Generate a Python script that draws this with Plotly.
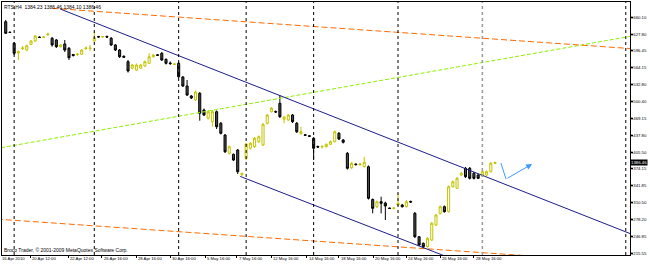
import plotly.graph_objects as go

# ---- data (RTS, H4) ----
opens = [1651.2, 1631.5, 1610.6, 1592.3, 1600.6, 1597.9, 1608.7, 1614.9, 1622.4, 1621.5,
         1627.1, 1620.0, 1616.8, 1604.2, 1609.3, 1601.1, 1589.5, 1589.3, 1589.8, 1600.6,
         1600.8, 1614.9, 1623.4, 1622.4, 1623.4, 1620.0, 1607.4, 1597.9, 1586.2, 1575.9,
         1563.5, 1560.3, 1563.5, 1567.8, 1572.9, 1585.3, 1588.9, 1591.7, 1580.4, 1573.4,
         1570.6, 1572.9, 1547.1, 1530.1, 1511.3, 1503.8, 1516.4, 1484.9, 1469.3, 1462.9,
         1481.7, 1459.9, 1437.8, 1403.3, 1401.4, 1409.6, 1362.8, 1393.9, 1412.8, 1415.8,
         1425.2, 1419.0, 1459.9, 1481.7, 1482.1, 1497.5, 1467.4, 1466.1, 1475.5, 1459.9,
         1441.0, 1438.2, 1436.3, 1431.6, 1416.1, 1415.2, 1415.8, 1420.3, 1425.2, 1441.0,
         1428.4, 1403.3, 1376.2, 1383.2, 1382.1, 1378.1, 1378.1, 1316.3, 1302.8, 1312.2,
         1309.7, 1300.3, 1299.4, 1305.9, 1305.9, 1302.8, 1312.6, 1290.3, 1246.2, 1233.8,
         1227.4, 1240.0, 1268.3, 1290.3, 1302.8, 1293.3, 1340.4, 1337.4, 1362.5, 1375.1,
         1375.1, 1365.7, 1362.5, 1360.6, 1362.5, 1368.7, 1384.23]
highs = [1654.4, 1632.8, 1613.0, 1597.0, 1605.5, 1608.3, 1616.8, 1626.2, 1623.4, 1623.4,
         1630.5, 1622.4, 1618.7, 1609.3, 1616.8, 1603.6, 1590.4, 1592.3, 1599.8, 1604.5,
         1607.4, 1632.4, 1624.3, 1624.3, 1625.2, 1622.4, 1609.3, 1599.8, 1587.6, 1579.1,
         1571.6, 1572.5, 1571.6, 1578.2, 1591.7, 1590.4, 1590.4, 1594.2, 1581.9, 1576.3,
         1572.5, 1575.3, 1549.0, 1541.4, 1513.1, 1521.6, 1518.8, 1487.7, 1484.0, 1484.9,
         1484.0, 1462.3, 1439.7, 1418.0, 1403.0, 1411.4, 1367.2, 1422.8, 1424.6, 1434.1,
         1436.9, 1460.4, 1477.4, 1490.6, 1484.0, 1513.1, 1473.6, 1477.4, 1477.4, 1462.3,
         1453.4, 1439.7, 1437.8, 1434.1, 1418.0, 1419.0, 1421.8, 1427.5, 1446.3, 1443.5,
         1430.3, 1405.8, 1387.0, 1384.1, 1385.1, 1396.9, 1380.4, 1318.2, 1314.4, 1321.6,
         1312.2, 1301.2, 1302.2, 1328.0, 1307.8, 1315.4, 1314.4, 1292.8, 1247.6, 1235.3,
         1245.7, 1273.9, 1289.0, 1305.0, 1305.0, 1342.7, 1352.1, 1358.7, 1368.1, 1377.5,
         1377.5, 1368.1, 1364.4, 1370.9, 1370.9, 1387.0, 1386.46]
lows = [1628.1, 1630.0, 1588.5, 1579.1, 1597.9, 1596.1, 1607.4, 1613.0, 1620.5, 1620.5,
        1624.3, 1604.2, 1601.7, 1602.7, 1594.2, 1579.1, 1585.7, 1586.6, 1588.5, 1597.9,
        1596.1, 1613.0, 1621.5, 1621.5, 1620.5, 1605.5, 1596.1, 1582.9, 1582.9, 1555.5,
        1561.2, 1558.4, 1562.1, 1565.9, 1571.6, 1583.8, 1586.6, 1577.2, 1570.6, 1569.7,
        1569.7, 1545.2, 1528.2, 1511.3, 1505.6, 1501.9, 1464.8, 1473.6, 1467.0, 1453.4,
        1449.1, 1438.8, 1403.9, 1401.1, 1388.8, 1364.4, 1360.6, 1390.7, 1410.5, 1413.4,
        1422.8, 1417.1, 1457.6, 1480.2, 1479.3, 1469.8, 1459.9, 1464.2, 1460.4, 1441.6,
        1437.8, 1435.9, 1434.1, 1390.7, 1413.4, 1412.4, 1414.3, 1419.0, 1423.7, 1428.4,
        1421.8, 1372.8, 1373.8, 1380.4, 1379.4, 1376.6, 1316.3, 1290.3, 1300.3, 1290.3,
        1277.7, 1298.4, 1297.5, 1304.1, 1301.2, 1301.2, 1309.7, 1243.8, 1228.7, 1224.4,
        1225.9, 1238.1, 1266.4, 1288.1, 1291.8, 1291.8, 1338.9, 1336.1, 1360.6, 1356.8,
        1354.0, 1354.0, 1354.9, 1358.7, 1360.6, 1367.2, 1384.10]
closes = [1629.4, 1630.9, 1591.7, 1595.1, 1601.7, 1606.0, 1614.9, 1624.3, 1621.5, 1622.4,
          1628.1, 1607.4, 1604.2, 1607.4, 1597.9, 1583.4, 1587.6, 1590.2, 1597.9, 1601.7,
          1601.7, 1621.1, 1622.4, 1623.4, 1622.4, 1607.4, 1597.9, 1585.3, 1584.4, 1558.4,
          1569.7, 1569.7, 1569.7, 1575.9, 1585.3, 1588.5, 1587.9, 1579.1, 1572.9, 1572.5,
          1571.6, 1547.6, 1530.1, 1513.1, 1507.5, 1518.8, 1478.7, 1475.5, 1481.7, 1481.7,
          1453.4, 1441.0, 1406.3, 1415.8, 1390.7, 1368.7, 1365.3, 1420.9, 1422.2, 1431.6,
          1434.6, 1458.0, 1475.5, 1488.1, 1481.1, 1472.3, 1471.7, 1475.5, 1462.9, 1444.0,
          1444.0, 1437.3, 1435.4, 1412.8, 1415.2, 1416.1, 1420.3, 1425.2, 1444.0, 1430.3,
          1424.1, 1375.1, 1384.5, 1382.1, 1383.2, 1386.4, 1318.6, 1299.7, 1312.2, 1309.2,
          1304.1, 1299.4, 1300.3, 1309.2, 1302.8, 1312.2, 1311.6, 1246.2, 1230.6, 1227.4,
          1243.2, 1271.5, 1287.1, 1302.8, 1293.3, 1340.4, 1349.9, 1356.2, 1365.7, 1359.3,
          1356.2, 1356.2, 1356.2, 1368.7, 1368.7, 1384.5, 1386.46]
bars = list(range(len(opens)))

# axis labels
price_ticks = [1660.10, 1627.80, 1596.45, 1564.15, 1532.80, 1500.40, 1469.15, 1437.80,
               1405.50, 1374.15, 1341.85, 1310.50, 1278.20, 1246.85, 1215.55]
date_pos = [-0.87, 5.8, 14.8, 22.8, 30.9, 39.0, 47.3, 54.8, 62.9, 71.4, 79.0, 87.1, 94.9, 103.0, 111.0]
date_text = ["16 Apr 2010", "20 Apr 12:00", "22 Apr 12:00", "26 Apr 16:00", "28 Apr 16:00",
             "30 Apr 16:00", "5 May 16:00", "7 May 16:00", "12 May 16:00", "14 May 16:00",
             "18 May 16:00", "20 May 16:00", "24 May 16:00", "26 May 16:00", "28 May 16:00"]

# drawn objects (bar index, price)
channel_top = ([12.9, 150.4], [1675.2, 1244.7])
channel_bottom = ([55.6, 107.7], [1359.8, 1198.8])
orange_top = ([11.0, 150.4], [1676.5, 1599.4])
orange_bottom = ([-2.1, 126.7], [1279.4, 1208.7])
green_line = ([-2.5, 150.4], [1412.0, 1626.9])
projection = ([117.4, 118.6, 124.8], [1385.1, 1354.9, 1383.2])
separators = [2, 21, 41, 57, 73, 93, 147]
separator_grey = [113]

x_range = [-0.88, 148.0]
y_range = [1211.8, 1688.35]

FONT = "Liberation Sans, Arial, sans-serif"

fig = go.Figure()

def add_line(pts, color, dash, width=1):
    fig.add_trace(go.Scatter(x=pts[0], y=pts[1], mode="lines",
                             line=dict(color=color, width=width, dash=dash),
                             hoverinfo="skip"))

add_line(green_line, "#8CF000", "4px,2px")
add_line(orange_top, "#FF6A00", "6px,3px")
add_line(orange_bottom, "#FF6A00", "6px,3px")
add_line(channel_top, "#1C1C8C", "solid")
add_line(channel_bottom, "#1C1C8C", "solid")

fig.add_trace(go.Candlestick(
    x=bars, open=opens, high=highs, low=lows, close=closes,
    increasing=dict(line=dict(color="#C4C400", width=1), fillcolor="#FFFFFF"),
    decreasing=dict(line=dict(color="#000000", width=1), fillcolor="#4A4A4A"),
    whiskerwidth=0, hoverinfo="skip"))

# projection arrow
fig.add_trace(go.Scatter(x=projection[0][:2], y=projection[1][:2], mode="lines",
                         line=dict(color="#3D9BFF", width=1), hoverinfo="skip"))
fig.add_annotation(x=projection[0][2], y=projection[1][2], ax=projection[0][1], ay=projection[1][1],
                   xref="x", yref="y", axref="x", ayref="y", showarrow=True,
                   arrowhead=2, arrowsize=1.2, arrowwidth=1, arrowcolor="#3D9BFF", text="")

for s in separators:
    fig.add_vline(x=s, line=dict(color="#000000", width=1, dash="dot"))
for s in separator_grey:
    fig.add_vline(x=s, line=dict(color="#9A9A9A", width=1.5, dash="dot"))

fig.update_layout(
    width=650, height=264,
    margin=dict(l=2, r=20, t=2, b=9, autoexpand=False),
    paper_bgcolor="white", plot_bgcolor="white",
    showlegend=False,
    font=dict(family=FONT, size=5, color="black"),
)
fig.update_xaxes(range=x_range, rangeslider_visible=False, showgrid=False, zeroline=False,
                 showline=True, mirror=True, linecolor="black", linewidth=1,
                 tickmode="array", tickvals=date_pos[1:], ticktext=[""] * (len(date_pos) - 1),
                 ticks="outside", ticklen=2, tickcolor="black")
fig.update_yaxes(range=y_range, side="right", showgrid=False, zeroline=False,
                 showline=True, mirror=True, linecolor="black", linewidth=1,
                 tickmode="array", tickvals=price_ticks, tickformat=".2f",
                 ticks="outside", ticklen=2, tickcolor="black", ticklabelstandoff=-3,
                 tickfont=dict(size=4.3, family=FONT))

# date labels (left-aligned at their bar, MT4 style)
for k, (pos, txt) in enumerate(zip(date_pos, date_text)):
    fig.add_annotation(xref="x", yref="paper", x=pos, y=0, xanchor="left", yanchor="top",
                       text=txt, showarrow=False, borderpad=0, yshift=0,
                       xshift=(-1 if k == 0 else 1),
                       font=dict(size=4.2, family=FONT, color="black"))

# header / current price / copyright
fig.add_annotation(xref="paper", yref="paper", x=0.0, y=1.0, xanchor="left", yanchor="top",
                   text="RTS,H4  1384.23 1386.46 1384.10 1386.46", showarrow=False,
                   font=dict(size=5, family=FONT, color="black"))
fig.add_annotation(xref="paper", yref="y", x=1.0, y=closes[-1], xanchor="left", yanchor="middle",
                   text=f"{closes[-1]:.2f}", showarrow=False, bgcolor="black", borderpad=0,
                   font=dict(size=4.3, family=FONT, color="white"))
fig.add_annotation(xref="paper", yref="paper", x=0.0, y=0.0, xanchor="left", yanchor="bottom",
                   text="Broco Trader, © 2001-2009 MetaQuotes Software Corp.", showarrow=False,
                   font=dict(size=5, family=FONT, color="black"))

fig.write_html("out.html")
